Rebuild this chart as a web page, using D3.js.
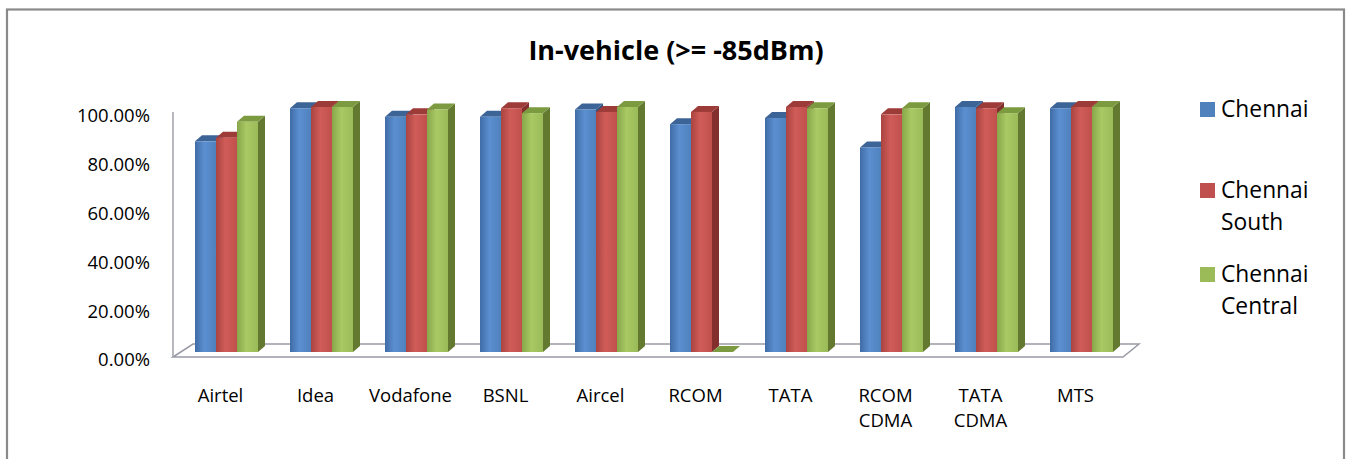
<!DOCTYPE html>
<html>
<head>
<meta charset="utf-8">
<script src="https://cdn.jsdelivr.net/npm/d3@7"></script>
<style>
  html, body { margin: 0; padding: 0; background: #fff; }
  svg { display: block; }
  text { font-family: "Open Sans", Lato, sans-serif; fill: #000; }
</style>
</head>
<body>
<svg id="chart" width="1346" height="459"></svg>
<script>
// ---- data ----
const title = "In-vehicle (>= -85dBm)";
const categories = ["Airtel", "Idea", "Vodafone", "BSNL", "Aircel", "RCOM", "TATA", "RCOM CDMA", "TATA CDMA", "MTS"];
const seriesNames = ["Chennai", "Chennai South", "Chennai Central"];
const chennai        = [0.86, 0.995, 0.96, 0.96, 0.99, 0.93, 0.955, 0.835, 1.00, 0.995];
const chennaiSouth   = [0.875, 1.00, 0.97, 0.995, 0.98, 0.98, 1.00, 0.97, 0.995, 1.00];
const chennaiCentral = [0.94, 1.00, 0.99, 0.975, 1.00, 0.00, 0.995, 0.995, 0.975, 1.00];
const yTicks = [0, 0.2, 0.4, 0.6, 0.8, 1.0];

const seriesValues = [chennai, chennaiSouth, chennaiCentral];
const colors = [
  {front: "#4F81BD", light: "#5C8FD0", dark: "#3F6CA6", top: "#3D6497", side: "#2F5282"},
  {front: "#C0504D", light: "#D05C58", dark: "#A94441", top: "#9C3B38", side: "#832F2D"},
  {front: "#9BBB59", light: "#A9C964", dark: "#87A64A", top: "#7C9A40", side: "#62792F"}
];

const svg = d3.select("#chart");

// frame
svg.append("rect").attr("x", 7).attr("y", 9.5).attr("width", 1337).attr("height", 460)
  .attr("fill", "none").attr("stroke", "#8a8a8a").attr("stroke-width", 2.2);

// title
svg.append("text").attr("x", 676).attr("y", 60).attr("text-anchor", "middle")
  .style("font-weight", "bold").style("font-size", "27px").text(title);

// scales
const x = d3.scaleBand().domain(categories).range([173, 1123]);
const xs = d3.scaleBand().domain(seriesNames).range([0, 63]);
const y = d3.scaleLinear().domain([0, 1]).range([352, 107]);
const yLab = d3.scaleLinear().domain([0, 1]).range([360, 116]);

const depthX = 7, depthY = 6;   // bar 3D depth
const floorDX = 20, floorDY = 13;

// floor and axis line
const x0 = x.range()[0], x1 = x.range()[1];
const floorFront = 357, floorBack = floorFront - floorDY;
svg.append("path")
  .attr("d", `M${x0},${floorFront} L${x0 + floorDX},${floorBack} L${x1 + 16},${floorBack} L${x1},${floorFront} Z`)
  .attr("fill", "#fff").attr("stroke", "#9a9aa6").attr("stroke-width", 1.5);
svg.append("line").attr("x1", x0).attr("x2", x0).attr("y1", 112).attr("y2", floorFront)
  .attr("stroke", "#a0a0aa").attr("stroke-width", 1.5);

// gradients
const defs = svg.append("defs");
colors.forEach((c, i) => {
  const g = defs.append("linearGradient").attr("id", "grad" + i)
    .attr("x1", "0%").attr("x2", "100%").attr("y1", "0%").attr("y2", "0%");
  g.append("stop").attr("offset", "0%").attr("stop-color", c.dark);
  g.append("stop").attr("offset", "45%").attr("stop-color", c.light);
  g.append("stop").attr("offset", "100%").attr("stop-color", c.front);
});

// bars
const bw = xs.bandwidth();
const barsG = svg.append("g");
categories.forEach((cat, ci) => {
  seriesNames.forEach((s, si) => {
    const v = seriesValues[si][ci];
    const bx = x(cat) + x.bandwidth() / 2 - 25.5 + xs(s);
    const yt = y(v), yb = y(0);
    const c = colors[si];
    // side face
    barsG.append("path")
      .attr("d", `M${bx + bw},${yt} L${bx + bw + depthX},${yt - depthY} L${bx + bw + depthX},${yb - depthY} L${bx + bw},${yb} Z`)
      .attr("fill", c.side);
    // top face
    barsG.append("path")
      .attr("d", `M${bx},${yt} L${bx + depthX},${yt - depthY} L${bx + bw + depthX},${yt - depthY} L${bx + bw},${yt} Z`)
      .attr("fill", c.top);
    // front face
    if (yb - yt > 0) {
      barsG.append("rect").attr("x", bx).attr("y", yt).attr("width", bw).attr("height", yb - yt)
        .attr("fill", `url(#grad${si})`);
    }
  });
});

// y axis labels
const yAxis = d3.axisLeft(yLab).tickValues(yTicks).tickSize(0).tickPadding(0)
  .tickFormat(d => (d * 100).toFixed(2) + "%");
const yg = svg.append("g").attr("transform", "translate(150,0)").call(yAxis);
yg.select(".domain").remove();
yg.selectAll("text").style("font-size", "18.5px").style("font-family", '"Open Sans", sans-serif').attr("fill", "#000");

// x axis labels
const xAxis = d3.axisBottom(x).tickSize(0).tickPadding(0);
const xg = svg.append("g").attr("transform", "translate(0,388)").call(xAxis);
xg.select(".domain").remove();
xg.selectAll(".tick text").each(function(d) {
  const t = d3.select(this);
  t.text(null).attr("y", 0).attr("dy", 0)
    .style("font-size", "18.5px").style("font-family", '"Open Sans", sans-serif').attr("fill", "#000");
  const words = d.split(" ");
  words.forEach((w, i) => {
    t.append("tspan").attr("x", 0).attr("y", 14 + i * 25).text(w);
  });
});

// legend
const legendItems = [
  {lines: ["Chennai"], y: 117},
  {lines: ["Chennai", "South"], y: 198},
  {lines: ["Chennai", "Central"], y: 282}
];
const lg = svg.append("g");
legendItems.forEach((it, i) => {
  lg.append("rect").attr("x", 1200).attr("y", it.y - 15).attr("width", 15).attr("height", 15)
    .attr("fill", colors[i].front);
  const t = lg.append("text").style("font-size", "22.8px");
  it.lines.forEach((ln, li) => {
    t.append("tspan").attr("x", 1221).attr("y", it.y + li * 32).text(ln);
  });
});
</script>
</body>
</html>
